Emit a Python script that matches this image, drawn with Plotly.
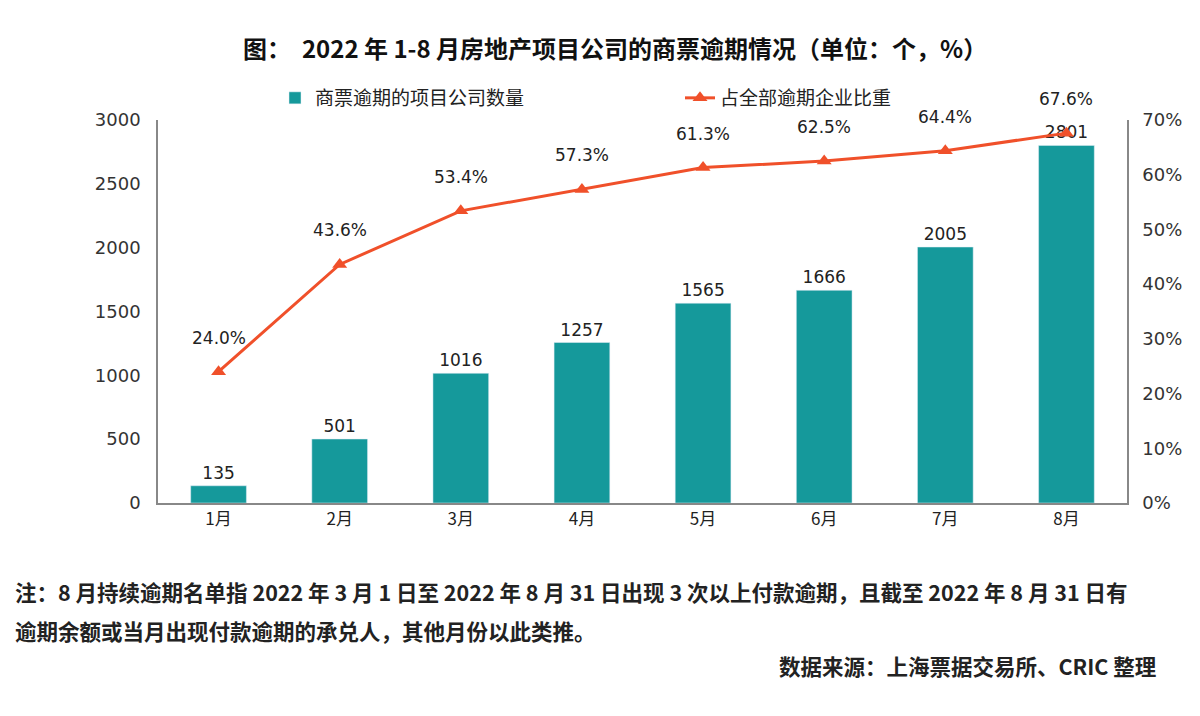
import plotly.graph_objects as go

months = ["1月", "2月", "3月", "4月", "5月", "6月", "7月", "8月"]
counts = [135, 501, 1016, 1257, 1565, 1666, 2005, 2801]
shares = [24.0, 43.6, 53.4, 57.3, 61.3, 62.5, 64.4, 67.6]
left_ticks = [0, 500, 1000, 1500, 2000, 2500, 3000]
right_ticks = [0, 10, 20, 30, 40, 50, 60, 70]
right_tick_labels = [f"{v}%" for v in right_ticks]

title_text = "图：  2022 年 1-8 月房地产项目公司的商票逾期情况（单位：个，%）"
bar_name = "商票逾期的项目公司数量"
line_name = "占全部逾期企业比重"
note1 = "注：8 月持续逾期名单指 2022 年 3 月 1 日至 2022 年 8 月 31 日出现 3 次以上付款逾期，且截至 2022 年 8 月 31 日有"
note2 = "逾期余额或当月出现付款逾期的承兑人，其他月份以此类推。"
source = "数据来源：上海票据交易所、CRIC 整理"

CJK = "Noto Sans CJK SC"
NUM = "DejaVu Sans"
teal = "#15999B"
orange = "#F0502A"

OFF = 8  # page body margin offset
W, H = 1200, 716
# plot area in screen pixels
SX0, SX1, SY0, SY1 = 158, 1127, 120, 503
L, T = SX0 - OFF, SY0 - OFF
R, B = W - (SX1 - OFF), H - (SY1 - OFF)
PW, PH = SX1 - SX0, SY1 - SY0


def px_x(x):
    return (x - SX0) / PW


def px_y(y):
    return (SY1 - y) / PH


fig = go.Figure()
fig.add_trace(go.Bar(
    x=months, y=counts, name=bar_name, marker_color=teal, width=0.46,
    text=[str(v) for v in counts], textposition="outside",
    textfont=dict(family=NUM, size=17, color="#222222"), cliponaxis=False,
))
fig.add_trace(go.Scatter(
    x=months, y=shares, name=line_name, yaxis="y2", mode="lines+markers",
    line=dict(color=orange, width=3),
    marker=dict(symbol="triangle-up", size=13, color=orange),
))

for m, s in zip(months, shares):
    fig.add_annotation(x=m, y=s, xref="x", yref="y2", text=f"{s:.1f}%",
                       showarrow=False, yshift=34,
                       font=dict(family=NUM, size=17, color="#222222"))

fig.add_annotation(x=px_x(615), y=px_y(47), xref="paper", yref="paper",
                   xanchor="center", yanchor="middle", text="<b>" + title_text + "</b>",
                   showarrow=False, font=dict(family=CJK, size=24, color="#111111"))

fig.add_annotation(x=px_x(13), y=px_y(591), xref="paper", yref="paper",
                   xanchor="left", yanchor="middle", showarrow=False, text="<b>" + note1 + "</b>",
                   font=dict(family=CJK, size=21.5, color="#222222"))
fig.add_annotation(x=px_x(13), y=px_y(630), xref="paper", yref="paper",
                   xanchor="left", yanchor="middle", showarrow=False, text="<b>" + note2 + "</b>",
                   font=dict(family=CJK, size=21.5, color="#222222"))
fig.add_annotation(x=px_x(1158), y=px_y(665), xref="paper", yref="paper",
                   xanchor="right", yanchor="middle", showarrow=False, text="<b>" + source + "</b>",
                   font=dict(family=CJK, size=21.5, color="#222222"))

fig.update_layout(
    width=W, height=H,
    margin=dict(l=L, r=R, t=T, b=B, autoexpand=False),
    paper_bgcolor="white", plot_bgcolor="white",
    showlegend=True,
    legend=dict(orientation="h", x=px_x(275), y=px_y(98), xanchor="left", yanchor="middle",
                entrywidth=360, font=dict(family=CJK, size=19, color="#222222"),
                bgcolor="rgba(0,0,0,0)"),
    xaxis=dict(showline=True, linecolor="#888888", linewidth=1.5, ticks="",
               tickfont=dict(family=CJK, size=17, color="#222222"), showgrid=False),
    yaxis=dict(range=[0, 3000], tickvals=left_ticks, showline=True, linecolor="#888888",
               linewidth=1.5, showgrid=False, zeroline=False, ticks="",
               tickfont=dict(family=NUM, size=18, color="#333333"), ticklabelstandoff=12),
    yaxis2=dict(range=[0, 70], tickvals=right_ticks, ticktext=right_tick_labels, overlaying="y",
                side="right", showline=True, linecolor="#888888", linewidth=1.5,
                showgrid=False, zeroline=False, ticks="",
                tickfont=dict(family=NUM, size=18, color="#333333"), ticklabelstandoff=10),
)

fig.write_html("out.html")
